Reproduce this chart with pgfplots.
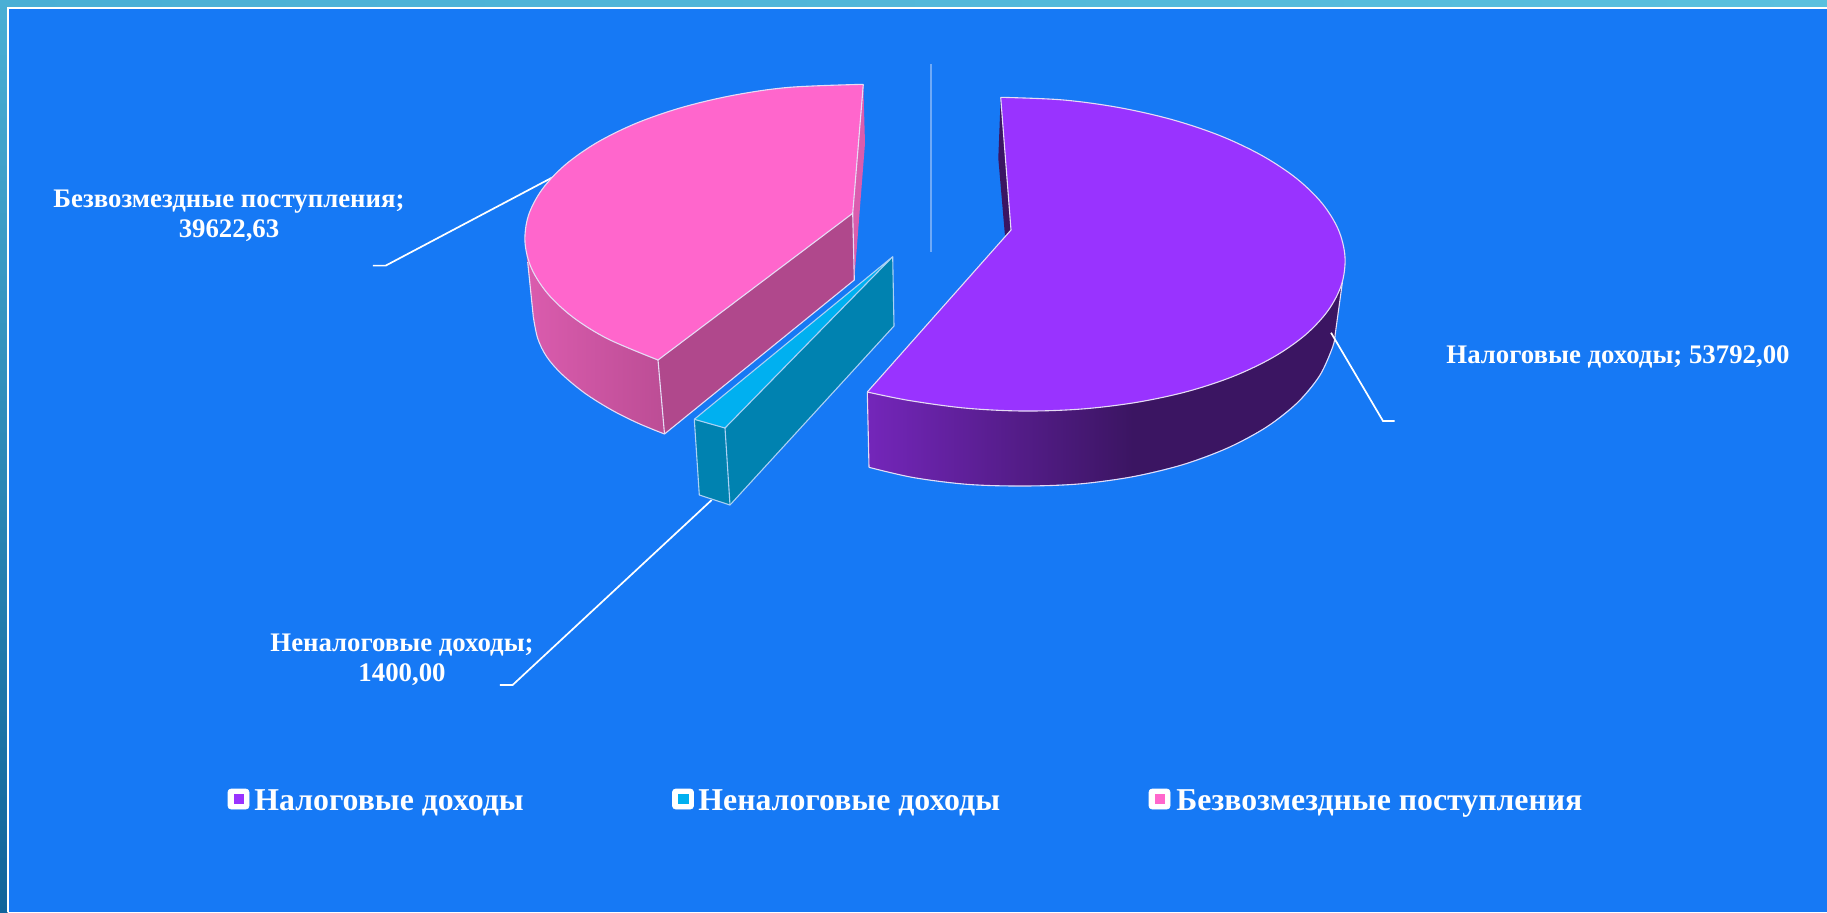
\documentclass[border=0pt]{standalone}
\usepackage{pgfplots}
\pgfplotsset{compat=1.18}
\usepackage{fontspec}
\setmainfont{Liberation Serif}
\definecolor{bgblue}{HTML}{1679F5}
\definecolor{pinktop}{HTML}{FF66CC}
\definecolor{pinkwall}{HTML}{B0488C}
\definecolor{pinkA}{HTML}{DB5CAE}
\definecolor{pinkB}{HTML}{BC4D95}
\definecolor{purtop}{HTML}{9933FF}
\definecolor{purA}{HTML}{7426BA}
\definecolor{purB}{HTML}{3B1562}
\definecolor{teal1}{HTML}{00B0F0}
\definecolor{teal2}{HTML}{0082B0}
\definecolor{edge}{HTML}{E6DCF5}
\definecolor{vline}{HTML}{6FAAF7}
\tikzset{lbl/.style={font=\fontsize{13.4}{15}\selectfont\bfseries,text=white,align=center,inner sep=0pt},
 leg/.style={font=\fontsize{15.9}{18}\selectfont\bfseries,text=white,anchor=base west,inner sep=0pt},
 ed/.style={draw=edge,line width=0.55pt,smooth,tension=0.55},
 el/.style={draw=edge,line width=0.55pt,line join=round},
 leader/.style={draw=white,line width=0.85pt}}
\begin{document}
\begin{tikzpicture}
\begin{axis}[scale only axis,width=913.5pt,height=456pt,hide axis,
  xmin=0,xmax=1827,ymin=0,ymax=912,y dir=reverse,clip=true]
% background
\addplot[fill=bgblue,draw=none] coordinates {(0,0)(1827,0)(1827,912)(0,912)} -- cycle;
\addplot[draw=none,left color={rgb,255:red,74;green,175;blue,213},right color={rgb,255:red,90;green,192;blue,222}] coordinates {(0,0)(1827,0)(1827,7.5)(0,7.5)} -- cycle;
\addplot[draw=none,top color={rgb,255:red,74;green,175;blue,213},bottom color={rgb,255:red,16;green,100;blue,155}] coordinates {(0,0)(7.5,0)(7.5,912)(0,912)} -- cycle;
\addplot[draw=white,line width=0.75pt] coordinates {(8,912)(8,8)(1827,8)};
% leaders behind the slices
\addplot[leader] coordinates {(556,175.5)(385.7,265.6)(372.8,265.6)};
\addplot[leader] coordinates {(711.7,500)(512.6,685)(499.8,685)};
% pink slice
\addplot[fill=pinkA,draw=none] coordinates {(863.3,84.3)(865,143.3)(854.3,280)(852.7,213.3)} -- cycle;
\addplot[fill=pinkwall,draw=none] coordinates {(658,360)(852.7,213.3)(854.3,280)(664.5,434)} -- cycle;
\addplot[el] coordinates {(664.5,434)(854.3,280)(852.7,213.3)};
\addplot[draw=none,left color=pinkA,right color=pinkB] coordinates {(525,242.2)(531.6,268.6)(548.1,294.1)(573.9,317.9)(608.3,339.1)(650.1,357.2)(658,360)(664.5,434)(638.3,423.3)(611.7,410)(585,393.3)(561.7,374)(546.7,356.7)(537.7,338.3)(533.3,316.7)(527.7,265)} -- cycle;
\addplot[ed] coordinates {(664.5,434)(638.3,423.3)(611.7,410)(585,393.3)(561.7,374)(546.7,356.7)(537.7,338.3)(533.3,316.7)};
\addplot[el] coordinates {(533.3,316.7)(527.7,262)};
\addplot[el] coordinates {(658,360)(664.5,434)};
\addplot[fill=pinktop,draw=none,smooth,tension=0.55] coordinates {(863.3,84.3)(789.6,87.3)(734.3,95.1)(682.7,107.2)(636.3,123.2)(596.7,142.7)(564.9,165.1)(541.9,189.7)(528.4,215.6)(525,242.2)(531.6,268.6)(548.1,294.1)(573.9,317.9)(608.3,339.1)(658,360)} -- (axis cs:852.7,213.3) -- cycle;
\addplot[ed] coordinates {(863.3,84.3)(789.6,87.3)(734.3,95.1)(682.7,107.2)(636.3,123.2)(596.7,142.7)(564.9,165.1)(541.9,189.7)(528.4,215.6)(525,242.2)(531.6,268.6)(548.1,294.1)(573.9,317.9)(608.3,339.1)(658,360)};
\addplot[el] coordinates {(658,360)(852.7,213.3)(863.3,84.3)};
% teal slice
\addplot[fill=teal2,draw=none] coordinates {(694.3,419.3)(725,428)(730,505)(699.3,495)} -- cycle;
\addplot[fill=teal2,draw=none] coordinates {(725,428)(892.7,256.7)(894,326)(730,505)} -- cycle;
\addplot[fill=teal1,draw=none] coordinates {(694.3,419.3)(892.7,256.7)(725,428)} -- cycle;
\addplot[el,draw=edge!75!teal1] coordinates {(694.3,419.3)(892.7,256.7)(894,326)(730,505)(699.3,495)(694.3,419.3)(725,428)(892.7,256.7)};
\addplot[el,draw=edge!75!teal1] coordinates {(725,428)(730,505)};
% purple slice
\addplot[fill=purB,draw=none] coordinates {(1000.7,97.3)(998.3,158.3)(1005,236)(1011,230)} -- cycle;
\addplot[fill=purB,draw=none] coordinates {(1130,402)(1187.3,391.5)(1233.7,376.2)(1273.3,357.2)(1305.1,335.1)(1328.1,310.5)(1342.5,281.5)(1335.1,335)(1334.2,340.9)(1332.7,346.9)(1319.7,375.6)(1297.5,402.6)(1266.7,426.9)(1228.2,447.7)(1183.3,464.5)(1130,477.2)} -- cycle;
\addplot[draw=none,left color=purA,right color=purB] coordinates {(867.3,392)(909.3,400.5)(965.4,408.1)(1023,411)(1080.4,409.1)(1133.3,402.8)(1133.3,476.6)(1079.6,483.9)(1024,486)(968.2,484.4)(913.7,477.6)(869,467.3)} -- cycle;
\addplot[ed] coordinates {(869,467.3)(913.7,477.6)(968.2,484.4)(1024,486)(1079.6,483.9)(1133.3,476.6)(1183.3,464.5)(1228.2,447.7)(1266.7,426.9)(1297.5,402.6)(1319.7,375.6)(1332.7,346.9)(1335.1,335)};
\addplot[el] coordinates {(1335.1,335)(1342.5,281.5)};
\addplot[el] coordinates {(867.3,392)(869,467.3)};
\addplot[fill=purtop,draw=none,smooth,tension=0.55] coordinates {(1000.7,97.3)(1062.6,99.9)(1118.7,107.5)(1171.7,119.5)(1219.9,135.6)(1261.7,155.4)(1296.1,178.1)(1321.9,203.1)(1338.4,229.7)(1345,257)(1341.6,284.3)(1328.1,310.5)(1305.1,335.1)(1273.3,357.2)(1233.7,376.2)(1187.3,391.5)(1135.7,402.5)(1080.4,409.1)(1023,411)(965.4,408.1)(909.3,400.5)(867.3,392)} -- (axis cs:1011,230) -- cycle;
\addplot[ed] coordinates {(1000.7,97.3)(1062.6,99.9)(1118.7,107.5)(1171.7,119.5)(1219.9,135.6)(1261.7,155.4)(1296.1,178.1)(1321.9,203.1)(1338.4,229.7)(1345,257)(1341.6,284.3)(1328.1,310.5)(1305.1,335.1)(1273.3,357.2)(1233.7,376.2)(1187.3,391.5)(1135.7,402.5)(1080.4,409.1)(1023,411)(965.4,408.1)(909.3,400.5)(867.3,392)};
\addplot[el] coordinates {(867.3,392)(1011,230)(1000.7,97.3)};
\addplot[leader] coordinates {(1331,332.7)(1383,421)(1394.6,421)};
% thin vertical line
\addplot[draw=vline,line width=0.9pt] coordinates {(930.7,64)(930.7,251.7)};
% legend keys
\addplot[fill=white,draw=white,rounded corners=1.5pt,line width=0.3pt] coordinates {(228,789)(249,789)(249,809)(228,809)} -- cycle;
\addplot[fill=purtop,draw=none] coordinates {(233.5,794)(244,794)(244,804)(233.5,804)} -- cycle;
\addplot[fill=white,draw=white,rounded corners=1.5pt,line width=0.3pt] coordinates {(672.5,789)(693.5,789)(693.5,809)(672.5,809)} -- cycle;
\addplot[fill=teal1,draw=none] coordinates {(678,794)(688.5,794)(688.5,804)(678,804)} -- cycle;
\addplot[fill=white,draw=white,rounded corners=1.5pt,line width=0.3pt] coordinates {(1149,789)(1170,789)(1170,809)(1149,809)} -- cycle;
\addplot[fill=pinktop,draw=none] coordinates {(1154.5,794)(1165,794)(1165,804)(1154.5,804)} -- cycle;
% texts
\node[lbl] at (axis cs:229,215.5) {Безвозмездные поступления;\\39622,63};
\node[lbl] at (axis cs:1618,356.5) {Налоговые доходы; 53792,00};
\node[lbl] at (axis cs:402,659.5) {Неналоговые доходы;\\1400,00};
\node[leg] at (axis cs:254,810) {Налоговые доходы};
\node[leg] at (axis cs:698,810) {Неналоговые доходы};
\node[leg] at (axis cs:1176,810) {Безвозмездные поступления};
\end{axis}
\end{tikzpicture}
\end{document}
